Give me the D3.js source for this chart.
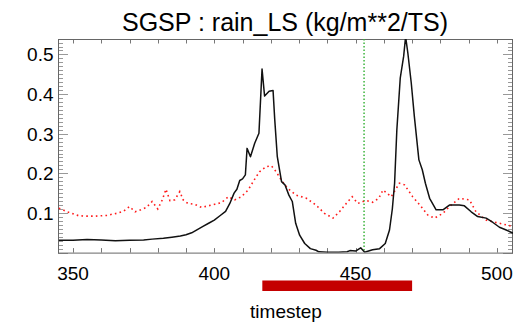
<!DOCTYPE html>
<html>
<head>
<meta charset="utf-8">
<script src="https://cdn.jsdelivr.net/npm/d3@7"></script>
<style>
  body { margin: 0; background: #fff; }
  svg { display: block; font-family: "Liberation Sans", Arial, sans-serif; }
</style>
</head>
<body>
<svg id="chart" width="523" height="325"></svg>
<script>
// 黒線 (実線)
const blackT = [345, 350, 355, 360, 365, 370, 375, 378, 382, 385, 388, 390, 392, 394, 396, 398, 400, 402, 404, 405.5, 407, 408, 409, 410, 411, 411.6, 412.8, 414.3, 415.8, 416.9, 417.8, 419.4, 420.8, 421.4, 422.3, 423.8, 425, 426.4, 427.6, 428.8, 430.2, 432, 434, 436, 437, 440, 444, 447, 448, 450, 451.8, 453.2, 456, 458.5, 460.5, 462, 463, 463.8, 464.6, 465.8, 467, 467.7, 468.5, 469.7, 470.8, 472.4, 473.6, 474.7, 476.2, 478.5, 480.9, 483.2, 486.7, 488.5, 490.9, 493.2, 496.2, 498.6, 500.9, 503.3, 506];
const blackV = [0.031, 0.031, 0.033, 0.032, 0.030, 0.031, 0.032, 0.034, 0.036, 0.039, 0.042, 0.045, 0.050, 0.058, 0.066, 0.074, 0.082, 0.093, 0.104, 0.124, 0.150, 0.160, 0.182, 0.186, 0.196, 0.263, 0.242, 0.276, 0.301, 0.463, 0.395, 0.407, 0.409, 0.335, 0.242, 0.179, 0.171, 0.145, 0.129, 0.074, 0.044, 0.023, 0.010, 0.006, 0.002, 0.001, 0.001, 0.002, 0.005, 0.004, 0.012, 0.001, 0.007, 0.010, 0.023, 0.057, 0.110, 0.175, 0.310, 0.440, 0.495, 0.545, 0.503, 0.428, 0.343, 0.234, 0.209, 0.175, 0.137, 0.108, 0.108, 0.120, 0.120, 0.118, 0.103, 0.091, 0.087, 0.076, 0.064, 0.057, 0.048];

// 赤線 (点線)
const redT = [345, 348, 352, 355, 358, 362, 366, 368, 370, 372, 374, 376, 378, 380, 381.6, 382.9, 384.3, 386, 387.8, 389, 390.7, 393, 395.5, 397.8, 400.2, 402.5, 405, 407.2, 409.6, 412, 414, 416, 418.4, 420.2, 421.9, 423.7, 426, 429, 432.6, 436, 439, 442, 444.3, 446.7, 448.8, 450.8, 452.6, 454, 456, 458.2, 459.7, 462.6, 465.5, 467.3, 470.2, 473.2, 475.5, 477.9, 480.9, 483.2, 486.7, 490.3, 492.6, 496.2, 499.7, 503.3, 506];
const redV = [0.112, 0.103, 0.093, 0.092, 0.092, 0.094, 0.100, 0.105, 0.116, 0.103, 0.108, 0.114, 0.129, 0.110, 0.133, 0.160, 0.131, 0.133, 0.154, 0.133, 0.124, 0.122, 0.114, 0.118, 0.122, 0.126, 0.141, 0.133, 0.141, 0.158, 0.182, 0.204, 0.217, 0.219, 0.204, 0.183, 0.162, 0.145, 0.137, 0.120, 0.099, 0.087, 0.103, 0.124, 0.141, 0.124, 0.129, 0.131, 0.127, 0.137, 0.158, 0.141, 0.175, 0.171, 0.141, 0.116, 0.095, 0.087, 0.099, 0.116, 0.137, 0.133, 0.103, 0.082, 0.076, 0.070, 0.065];

// 目盛り
const xLabels = [350, 400, 450, 500];
const yLabels = [0.1, 0.2, 0.3, 0.4, 0.5];
const greenLineT = 453;
const redBarRange = [417, 470];

const svg = d3.select("#chart");
const pLeft = 58, pRight = 513, pTop = 39, pBottom = 252.6;

const x = d3.scaleLinear().domain([344.7, 505.7]).range([pLeft, pRight]);
const y = d3.scaleLinear().domain([0, 0.539]).range([pBottom, pTop]);

// クリップ
svg.append("clipPath").attr("id", "clip")
  .append("rect")
  .attr("x", pLeft).attr("y", pTop)
  .attr("width", pRight - pLeft).attr("height", pBottom - pTop);

// タイトル
svg.append("text")
  .attr("x", 285).attr("y", 31)
  .attr("text-anchor", "middle")
  .attr("font-size", "25px")
  .attr("fill", "#000")
  .text("SGSP : rain_LS (kg/m**2/TS)");

// x 目盛り (上下)
const xTicks = d3.range(350, 506, 10);
const xt = svg.append("g").attr("stroke", "#777").attr("stroke-width", 1);
xTicks.forEach(t => {
  const px = Math.round(x(t)) + 0.5;
  xt.append("line").attr("x1", px).attr("x2", px).attr("y1", pBottom).attr("y2", pBottom - 4.5);
  xt.append("line").attr("x1", px).attr("x2", px).attr("y1", pTop).attr("y2", pTop + 4.5);
});

// y 目盛り (左右)
const yTicks = d3.range(0, 54).map(i => i / 100);
const yt = svg.append("g").attr("stroke", "#999").attr("stroke-width", 1);
yTicks.forEach((v, i) => {
  const py = Math.round(y(v)) + 0.5;
  const len = (i % 10 === 0) ? 10 : 5;
  yt.append("line").attr("x1", pLeft).attr("x2", pLeft + len).attr("y1", py).attr("y2", py);
  yt.append("line").attr("x1", pRight).attr("x2", pRight - len).attr("y1", py).attr("y2", py);
});

// 枠
svg.append("rect")
  .attr("x", pLeft + 0.5).attr("y", pTop + 0.5)
  .attr("width", pRight - pLeft - 1).attr("height", pBottom - pTop)
  .attr("fill", "none")
  .attr("stroke", "#666")
  .attr("stroke-width", 1);

// ラベル
svg.selectAll(".xl")
  .data(xLabels)
  .enter()
  .append("text")
  .attr("x", d => x(d))
  .attr("y", 279.5)
  .attr("text-anchor", "middle")
  .attr("font-size", "19px")
  .text(d => d);

svg.selectAll(".yl")
  .data(yLabels)
  .enter()
  .append("text")
  .attr("x", 53.5)
  .attr("y", d => y(d) + 7)
  .attr("text-anchor", "end")
  .attr("font-size", "19px")
  .text(d => d3.format(".1f")(d));

const plot = svg.append("g").attr("clip-path", "url(#clip)");

// 緑の縦線
plot.append("line")
  .attr("x1", x(greenLineT)).attr("x2", x(greenLineT))
  .attr("y1", pTop).attr("y2", pBottom)
  .attr("stroke", "#3cb43c")
  .attr("stroke-width", 1.5)
  .attr("stroke-dasharray", "1.5,2");

const line = d3.line().x(d => x(d[0])).y(d => y(d[1]));

// 赤点線
plot.append("path")
  .datum(redT.map((t, i) => [t, redV[i]]))
  .attr("d", line)
  .attr("fill", "none")
  .attr("stroke", "#ff1a1a")
  .attr("stroke-width", 1.6)
  .attr("stroke-dasharray", "1.6,3.2");

// 黒線
plot.append("path")
  .datum(blackT.map((t, i) => [t, blackV[i]]))
  .attr("d", line)
  .attr("fill", "none")
  .attr("stroke", "#111")
  .attr("stroke-width", 1.5)
  .attr("stroke-linejoin", "round");

// 赤い帯
svg.append("rect")
  .attr("x", x(redBarRange[0]))
  .attr("y", 280.5)
  .attr("width", x(redBarRange[1]) - x(redBarRange[0]))
  .attr("height", 10.5)
  .attr("fill", "#c40000");

// x 軸タイトル
svg.append("text")
  .attr("x", 286).attr("y", 318)
  .attr("text-anchor", "middle")
  .attr("font-size", "19px")
  .text("timestep");
</script>
</body>
</html>
